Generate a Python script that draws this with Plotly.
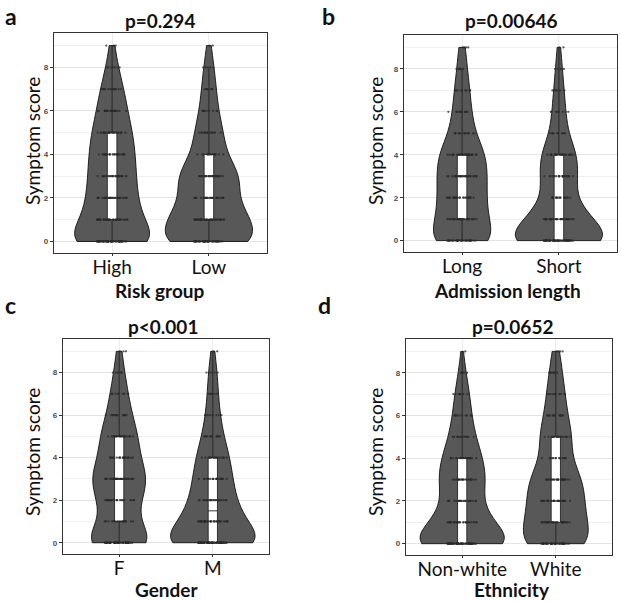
import numpy as np
import plotly.graph_objects as go

W, H = 621, 601

# ---------------- data (counts of patients at each symptom score) ----------------
scores = [0, 1, 2, 3, 4, 5, 6, 7, 8, 9]

high_counts = [60, 35, 30, 28, 27, 24, 18, 14, 7, 3]
low_counts = [49, 40, 26, 32, 16, 14, 9, 7, 5, 2]

long_counts = [40, 30, 28, 29, 28, 15, 11, 9, 6, 4]
short_counts = [70, 38, 18, 22, 22, 10, 8, 6, 4, 2]

f_counts = [47, 18, 24, 34, 22, 22, 14, 10, 6, 3]
m_counts = [64, 36, 26, 22, 19, 12, 8, 6, 5, 2]

nonwhite_counts = [63, 32, 20, 26, 22, 14, 10, 8, 4, 1]
white_counts = [42, 32, 30, 30, 14, 19, 12, 10, 7, 4]

panel_letters = ["a", "b", "c", "d"]
panel_pvalues = ["p=0.294", "p=0.00646", "p<0.001", "p=0.0652"]
panel_xtitles = ["Risk group", "Admission length", "Gender", "Ethnicity"]
panel_categories = [["High", "Low"], ["Long", "Short"], ["F", "M"], ["Non-white", "White"]]
panel_counts = [[high_counts, low_counts], [long_counts, short_counts],
                [f_counts, m_counts], [nonwhite_counts, white_counts]]
ytick_vals = [0, 2, 4, 6, 8]
y_title = "Symptom score"

# ---------------- layout geometry (pixels) ----------------
# plot boxes: (left, right, top, bottom)
boxes = [(54, 267, 33, 253), (404, 617, 35, 252), (63, 269, 339, 554), (406, 612, 339, 555)]
title_pos = [(160, 21), (511, 21), (163, 326), (512, 326)]
letter_pos = [(11, 0), (328, 0), (10, 289), (324, 289)]   # top-anchored
ytitle_pos = [(32, 141), (375, 141), (32, 452), (375, 452)]
xtitle_pos = [(160, 290), (507, 290), (167, 589), (512, 589)]

FONT = "Lato"
VIOLIN_FILL = "#585858"


def px_x(x):
    return x / W


def px_y(y):
    return 1 - y / H


def nrd0(v):
    sd = np.std(v, ddof=1)
    q1, q3 = np.percentile(v, [25, 75])
    lo = min(sd, (q3 - q1) / 1.34)
    return 0.9 * lo * len(v) ** -0.2


fig = go.Figure()
annotations = []

for i in range(4):
    ax = "" if i == 0 else str(i + 1)
    xref, yref = "x" + ax, "y" + ax
    for cat, counts in zip(panel_categories[i], panel_counts[i]):
        vals = np.repeat(scores, counts).astype(float)
        fig.add_trace(go.Violin(
            x=[cat] * len(vals), y=vals, name=cat,
            xaxis=xref, yaxis=yref,
            scalegroup="panel" + str(i), scalemode="width",
            spanmode="hard", bandwidth=nrd0(vals),
            fillcolor=VIOLIN_FILL, opacity=1,
            line=dict(color="#111111", width=0.9),
            box=dict(visible=True, width=0.11, fillcolor="white",
                     line=dict(color="#222222", width=0.9)),
            meanline=dict(visible=False),
            points="all", jitter=0.35, pointpos=0,
            marker=dict(size=2.3, color="#2a2a2a", opacity=0.75),
            showlegend=False, hoverinfo="skip",
        ))

    l, r, t, b = boxes[i]
    xa = dict(domain=[px_x(l), px_x(r)], anchor=yref,
              type="category", categoryorder="array", categoryarray=panel_categories[i],
              range=[-0.6, 1.6], showgrid=True, gridcolor="#EBEBEB", gridwidth=1,
              showline=True, mirror=True, linecolor="#333333", linewidth=1.2,
              ticks="outside", ticklen=2, tickcolor="#333333",
              ticklabelstandoff=-5,
              tickfont=dict(family=FONT, size=19, color="#111111"),
              zeroline=False, fixedrange=True)
    ya = dict(domain=[px_y(b), px_y(t)], anchor=xref,
              range=[-0.53, 9.58], tickvals=ytick_vals,
              ticktext=["<b>%d</b>" % v for v in ytick_vals],
              tickfont=dict(family="Liberation Sans", size=8, color="#4D4D4D"),
              ticks="outside", ticklen=3, tickcolor="#333333",
              showgrid=True, gridcolor="#E4E4E4", gridwidth=1,
              minor=dict(tick0=1, dtick=2, showgrid=True, gridcolor="#EFEFEF", gridwidth=0.8),
              showline=True, mirror=True, linecolor="#333333", linewidth=1.2,
              zeroline=False, fixedrange=True)
    fig.update_layout(**{"xaxis" + ax: xa, "yaxis" + ax: ya})

    tx, ty = title_pos[i]
    annotations.append(dict(text="<b>" + panel_pvalues[i] + "</b>", x=px_x(tx), y=px_y(ty),
                            xref="paper", yref="paper", showarrow=False,
                            xanchor="center", yanchor="middle",
                            font=dict(family=FONT, size=19, color="#111111")))
    lx, ly = letter_pos[i]
    annotations.append(dict(text="<b>" + panel_letters[i] + "</b>", x=px_x(lx), y=px_y(ly),
                            xref="paper", yref="paper", showarrow=False,
                            xanchor="center", yanchor="top",
                            font=dict(family=FONT, size=23, color="#111111")))
    yx, yy = ytitle_pos[i]
    annotations.append(dict(text=y_title, x=px_x(yx), y=px_y(yy), textangle=-90,
                            xref="paper", yref="paper", showarrow=False,
                            xanchor="center", yanchor="middle",
                            font=dict(family=FONT, size=19, color="#111111")))
    xx, xy = xtitle_pos[i]
    annotations.append(dict(text="<b>" + panel_xtitles[i] + "</b>", x=px_x(xx), y=px_y(xy),
                            xref="paper", yref="paper", showarrow=False,
                            xanchor="center", yanchor="middle",
                            font=dict(family=FONT, size=19, color="#111111")))

fig.update_layout(
    width=W, height=H, margin=dict(l=0, r=0, t=0, b=0),
    paper_bgcolor="white", plot_bgcolor="white",
    violinmode="overlay", violingap=0.1, violingroupgap=0,
    annotations=annotations, showlegend=False,
)

fig.write_html("out.html", config={"displayModeBar": False},
               post_script="document.body.style.margin='0px';document.body.style.overflow='hidden';")
